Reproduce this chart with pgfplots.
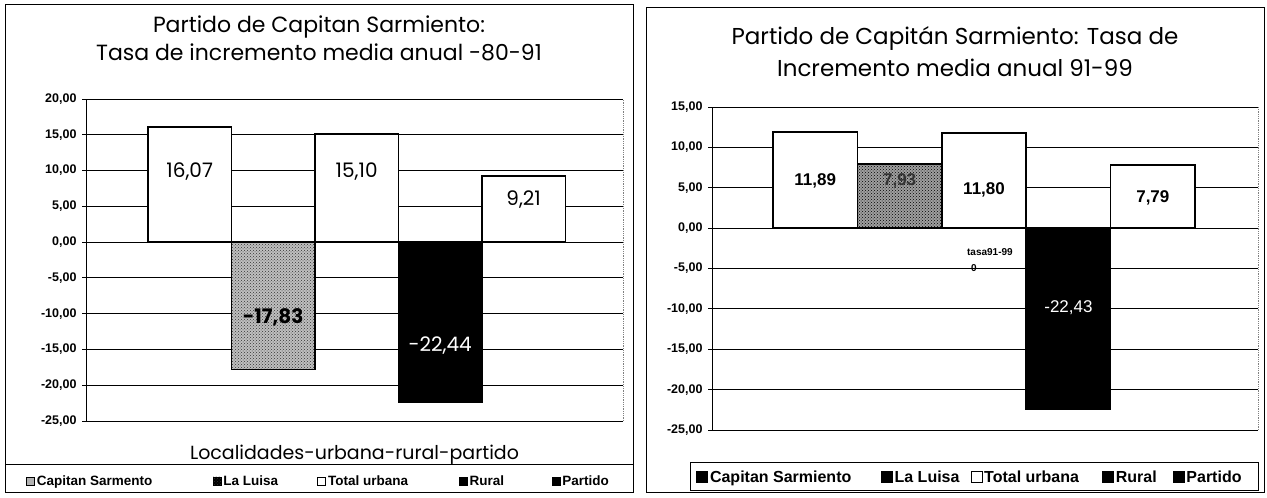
\documentclass[border=0pt]{standalone}
\usepackage{fontspec}
\setmainfont{Liberation Sans}
\newfontfamily\pop{Poppins}
\usepackage{pgfplots}
\pgfplotsset{compat=1.18}
\usetikzlibrary{patterns}

\pgfplotsset{
  panel/.style={
    anchor=south west, scale only axis,
    axis x line=none, axis y line*=left,
    y axis line style={line width=1pt},
    tick align=outside, major tick length=4pt,
    ytick style={black, line width=0.8pt},
    ymajorgrids, grid style={black, line width=0.9pt},
    yticklabel style={font=\bfseries\fontsize{12.5}{13}\selectfont, xshift=-2pt},
    legend columns=5,
    legend cell align=left,
    clip=false,
  },
  barsty/.style={ybar, bar width=1, bar shift=0pt, draw=black, line width=1.6pt},
}

\begin{document}
\begin{tikzpicture}[x=1pt,y=1pt]
\path[use as bounding box] (0pt,0pt) rectangle (1267pt,498pt);
% panel frames
\draw[line width=1pt] (5pt,5pt) rectangle (633pt,493pt);
\draw[line width=0.8pt] (5pt,34pt) -- (633pt,34pt);
\draw[line width=1pt] (646pt,5pt) rectangle (1264pt,490pt);
\draw[line width=0.8pt] (690pt,8pt) rectangle (1258pt,36pt);

% titles
\node[font=\pop\fontsize{22}{28}\selectfont, align=center] at (319pt,460pt)
  {Partido de Capitan Sarmiento:\\Tasa de incremento media anual -80-91};
\node[font=\pop\fontsize{23}{32}\selectfont, align=center] at (955pt,446pt)
  {Partido de Capitán Sarmiento: Tasa de\\Incremento media anual 91-99};

% ---------------- left chart ----------------
\begin{axis}[panel,
  at={(86pt,77pt)}, width=537pt, height=322pt,
  xmin=-1.242, xmax=5.19, ymin=-25, ymax=20,
  ytick={-25,-20,-15,-10,-5,0,5,10,15,20},
  yticklabels={{-25,00},{-20,00},{-15,00},{-10,00},{-5,00},{0,00},{5,00},{10,00},{15,00},{20,00}},
  legend style={draw=none, fill=none, at={(0.433,-0.186)}, anchor=center,
    font=\bfseries\fontsize{13.5}{14}\selectfont,
    /tikz/every even column/.append style={column sep=0pt}},
  legend image code/.code={\draw[#1, line width=0.6pt] (0pt,-4pt) rectangle (8pt,4pt);},
  after end axis/.code={\draw[densely dotted, gray, line width=0.8pt] (rel axis cs:1,0) -- (rel axis cs:1,1);},
]
\addplot[barsty, fill=white, legend image post style={fill=gray!60}] coordinates {(0,16.07)};
\addlegendentry{\makebox[174pt][l]{Capitan Sarmento}}
\addplot[barsty, fill=gray!50, postaction={pattern=crosshatch dots, pattern color=black!80}, legend image post style={fill=black}] coordinates {(1,-17.83)};
\addlegendentry{\makebox[92pt][l]{La Luisa}}
\addplot[barsty, fill=white] coordinates {(2,15.10)};
\addlegendentry{\makebox[129pt][l]{Total urbana}}
\addplot[barsty, fill=black] coordinates {(3,-22.44)};
\addlegendentry{\makebox[80pt][l]{Rural}}
\addplot[barsty, fill=white, legend image post style={fill=black}] coordinates {(4,9.21)};
\addlegendentry{Partido}

\node[font=\pop\fontsize{20}{20}\selectfont] at (axis cs:0,9.8) {16,07};
\node[font=\pop\fontsize{20}{20}\selectfont] at (axis cs:2,9.8) {15,10};
\node[font=\pop\fontsize{20}{20}\selectfont] at (axis cs:4,5.9) {9,21};
\node[font=\pop\bfseries\fontsize{20}{20}\selectfont] at (axis cs:1,-10.5) {-17,83};
\node[font=\pop\fontsize{20}{20}\selectfont, text=white] at (axis cs:3,-14.4) {-22,44};
\node[font=\pop\fontsize{19}{19}\selectfont] at (axis description cs:0.5,-0.106) {Localidades-urbana-rural-partido};
\end{axis}

% ---------------- right chart ----------------
\begin{axis}[panel,
  at={(712pt,68pt)}, width=546pt, height=323pt,
  xmin=-1.223, xmax=5.246, ymin=-25, ymax=15,
  ytick={-25,-20,-15,-10,-5,0,5,10,15},
  yticklabels={{-25,00},{-20,00},{-15,00},{-10,00},{-5,00},{0,00},{5,00},{10,00},{15,00}},
  legend style={draw=none, fill=none, at={(0.4725,-0.1455)}, anchor=center,
    font=\bfseries\fontsize{16}{17}\selectfont,
    /tikz/every even column/.append style={column sep=0pt}},
  legend image code/.code={\draw[#1, line width=0.6pt] (0pt,-5.5pt) rectangle (11pt,5.5pt);},
  after end axis/.code={\draw[densely dotted, gray, line width=0.8pt] (rel axis cs:1,0) -- (rel axis cs:1,1);},
]
\addplot[barsty, fill=white, legend image post style={fill=black}] coordinates {(0,11.89)};
\addlegendentry{\makebox[169pt][l]{Capitan Sarmiento}}
\addplot[barsty, fill=gray!75, postaction={pattern=crosshatch dots, pattern color=black}, legend image post style={fill=black}] coordinates {(1,7.93)};
\addlegendentry{\makebox[74pt][l]{La Luisa}}
\addplot[barsty, fill=white] coordinates {(2,11.80)};
\addlegendentry{\makebox[116pt][l]{Total urbana}}
\addplot[barsty, fill=black] coordinates {(3,-22.43)};
\addlegendentry{\makebox[55pt][l]{Rural}}
\addplot[barsty, fill=white, legend image post style={fill=black}] coordinates {(4,7.79)};
\addlegendentry{Partido}

\node[font=\bfseries\fontsize{17}{17}\selectfont] at (axis cs:0,5.9) {11,89};
\node[font=\bfseries\fontsize{17}{17}\selectfont, text=black!80] at (axis cs:1,5.9) {7,93};
\node[font=\bfseries\fontsize{17}{17}\selectfont] at (axis cs:2,4.7) {11,80};
\node[font=\fontsize{17}{17}\selectfont, text=white] at (axis cs:3,-9.8) {-22,43};
\node[font=\bfseries\fontsize{17}{17}\selectfont] at (axis cs:4,3.8) {7,79};
\node[font=\bfseries\fontsize{10}{10}\selectfont] at (axis cs:2.07,-3.0) {tasa91-99};
\node[font=\bfseries\fontsize{10}{10}\selectfont] at (axis cs:1.88,-5.0) {0};
\end{axis}
\end{tikzpicture}
\end{document}
